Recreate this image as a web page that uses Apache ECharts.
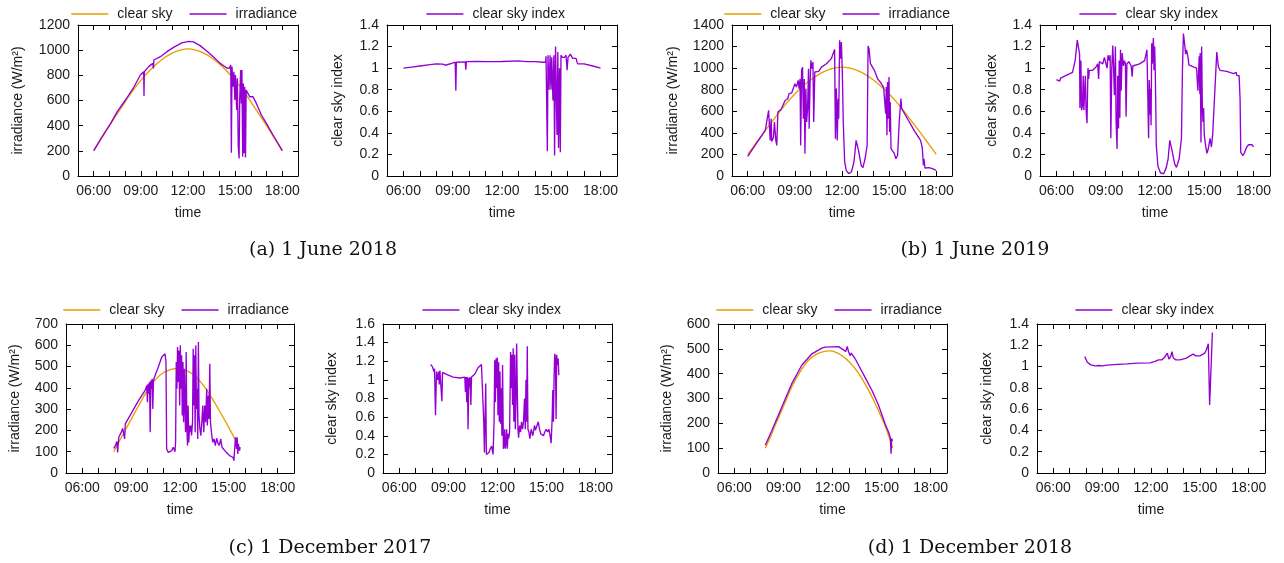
<!DOCTYPE html>
<html>
<head>
<meta charset="utf-8">
<script src="https://cdn.jsdelivr.net/npm/echarts@6/dist/echarts.min.js"></script>
<style>html,body{margin:0;padding:0;background:#fff}#c{width:1284px;height:563px}</style>
</head>
<body>
<div id="c"></div>
<script>
// ---- data: [hour of day, value] ----
const csA = [[6,200],[6.5,300],[7,400],[7.5,495],[8,590],[8.5,680],[9,760],[9.5,830],[10,890],[10.5,940],[11,977],[11.5,1000],[12,1010],[12.5,1000],[13,977],[13.5,940],[14,890],[14.5,830],[15,760],[15.5,680],[16,590],[16.5,495],[17,400],[17.5,300],[18,200]];
const irrA = [[6,201],[6.5,305],[7.08,418],[7.5,512],[8.02,604],[8.55,705],[8.97,803],[9.18,829],[9.2,635],[9.22,829],[9.5,869],[9.76,895],[9.8,855],[9.83,922],[10.24,948],[10.66,988],[11.08,1022],[11.6,1058],[12.03,1070],[12.35,1066],[12.77,1036],[13.19,994],[13.61,947],[14.03,897],[14.46,858],[14.62,855],[14.72,882],[14.76,185],[14.8,869],[14.86,710],[14.92,829],[14.98,604],[15.02,803],[15.1,524],[15.14,776],[15.2,233],[15.25,140],[15.29,604],[15.35,842],[15.39,577],[15.43,842],[15.48,154],[15.52,736],[15.57,180],[15.61,710],[15.66,148],[15.7,683],[15.8,697],[15.93,630],[16.14,630],[16.35,577],[16.67,485],[16.99,418],[17.41,326],[18,201]];
const ksA = [[6,1.0],[6.5,1.01],[7,1.02],[7.5,1.03],[8,1.04],[8.4,1.037],[8.47,1.05],[8.55,1.027],[8.6,1.04],[8.94,1.045],[9.15,1.055],[9.19,0.79],[9.22,1.055],[9.76,1.058],[9.8,0.985],[9.83,1.06],[10.5,1.062],[11,1.06],[12,1.062],[13,1.068],[13.5,1.06],[14,1.06],[14.5,1.055],[14.65,1.055],[14.68,1.11],[14.72,1.12],[14.76,0.23],[14.8,1.12],[14.86,0.8],[14.93,1.12],[14.98,0.8],[15.03,1.1],[15.1,0.7],[15.16,1.12],[15.2,0.19],[15.26,1.2],[15.32,1.21],[15.35,0.38],[15.4,1.15],[15.44,0.26],[15.5,1.0],[15.55,0.22],[15.59,1.12],[15.67,1.1],[15.8,1.1],[15.9,1.12],[15.96,0.98],[16.02,1.1],[16.16,1.13],[16.3,1.09],[16.51,1.09],[16.6,1.04],[17,1.04],[17.53,1.02],[18,1.0]];

const csB = [[6,200],[6.5,300],[7,400],[7.5,495],[8,590],[8.5,680],[9,760],[9.5,830],[10,890],[10.5,940],[11,977],[11.5,1000],[12,1010],[12.5,1000],[13,977],[13.5,940],[14,890],[14.5,830],[15,760],[15.5,680],[16,590],[16.5,495],[17,400],[17.5,300],[18,200]];
const irrB = [[6,182],[6.5,290],[7.12,423],[7.33,609],[7.38,620],[7.43,330],[7.49,530],[7.53,320],[7.64,360],[7.7,500],[7.79,330],[7.85,284],[7.92,593],[8.0,578],[8.13,618],[8.38,700],[8.55,716],[8.63,763],[8.8,770],[8.93,825],[9.0,856],[9.1,825],[9.21,887],[9.27,810],[9.33,902],[9.37,284],[9.43,980],[9.49,1010],[9.54,531],[9.6,900],[9.64,207],[9.7,810],[9.75,500],[9.81,624],[9.87,995],[9.91,439],[9.97,871],[10.02,1072],[10.08,995],[10.15,1057],[10.2,500],[10.27,964],[10.37,950],[10.52,970],[10.69,1010],[11.01,1041],[11.32,1088],[11.53,1174],[11.58,346],[11.64,810],[11.7,330],[11.75,717],[11.79,531],[11.85,1258],[11.92,1088],[11.96,1242],[12.02,964],[12.08,500],[12.17,130],[12.27,52],[12.42,22],[12.6,37],[12.76,130],[12.9,330],[13.05,238],[13.22,99],[13.33,77],[13.47,160],[13.6,284],[13.66,1205],[13.72,1180],[13.81,1041],[13.85,1057],[14.06,980],[14.27,900],[14.48,862],[14.65,819],[14.74,810],[14.78,578],[14.82,825],[14.86,377],[14.9,871],[14.95,531],[14.99,918],[15.03,408],[15.07,686],[15.12,253],[15.22,238],[15.33,207],[15.43,160],[15.54,192],[15.64,500],[15.75,717],[15.8,624],[16.17,531],[16.59,423],[17.0,330],[17.11,260],[17.18,99],[17.22,160],[17.28,74],[17.54,77],[17.75,68],[18.0,52]];
const ksB = [[6,0.894],[6.2,0.88],[6.27,0.91],[6.98,0.96],[7.14,1.07],[7.27,1.26],[7.35,1.275],[7.41,1.13],[7.43,0.63],[7.49,1.07],[7.53,0.61],[7.59,0.66],[7.63,0.93],[7.67,0.61],[7.71,0.76],[7.76,0.93],[7.8,0.63],[7.86,0.49],[7.92,1.0],[7.96,0.9],[8.0,0.98],[8.2,0.98],[8.41,1.01],[8.51,1.04],[8.57,0.9],[8.61,1.06],[8.82,1.04],[8.92,1.1],[9.02,1.09],[9.08,1.0],[9.14,1.12],[9.22,1.07],[9.27,1.12],[9.31,0.35],[9.37,1.0],[9.43,1.21],[9.47,1.04],[9.53,0.75],[9.59,1.2],[9.63,0.52],[9.69,0.25],[9.73,0.93],[9.78,0.44],[9.82,1.07],[9.86,0.54],[9.9,1.17],[9.94,0.79],[10.0,1.14],[10.08,1.02],[10.14,1.07],[10.2,1.04],[10.24,0.55],[10.29,1.04],[10.41,1.06],[10.55,1.02],[10.61,0.92],[10.65,1.02],[11.06,1.04],[11.37,1.07],[11.51,1.17],[11.57,1.18],[11.61,0.35],[11.65,0.89],[11.69,0.57],[11.73,0.81],[11.76,0.47],[11.8,1.23],[11.84,1.04],[11.9,1.28],[11.94,0.98],[11.98,1.2],[12.02,0.94],[12.08,0.28],[12.18,0.09],[12.33,0.03],[12.53,0.02],[12.69,0.08],[12.8,0.16],[12.9,0.33],[13.06,0.22],[13.2,0.11],[13.31,0.08],[13.47,0.16],[13.61,0.35],[13.67,0.98],[13.73,1.32],[13.82,1.2],[13.86,1.13],[13.92,1.17],[14.02,1.09],[14.06,1.03],[14.37,1.01],[14.53,1.0],[14.59,1.0],[14.61,0.79],[14.65,0.95],[14.69,1.11],[14.73,0.76],[14.75,1.14],[14.8,0.31],[14.84,1.2],[14.88,0.66],[14.92,0.5],[14.96,0.63],[15.0,0.38],[15.08,0.28],[15.16,0.21],[15.24,0.25],[15.35,0.35],[15.43,0.27],[15.51,0.38],[15.76,1.15],[15.86,1.01],[15.96,0.98],[16.37,0.97],[16.78,0.95],[16.94,0.96],[16.98,0.93],[17.12,0.93],[17.18,0.71],[17.22,0.22],[17.29,0.21],[17.35,0.19],[17.43,0.21],[17.53,0.2],[17.59,0.27],[17.69,0.29],[17.8,0.28],[17.9,0.29],[18.0,0.27]];

const csC = [[7.93,100],[8.0,110],[8.5,182],[9.0,252],[9.5,322],[10.0,388],[10.5,440],[11.0,472],[11.5,488],[11.8,491],[12.0,489],[12.5,477],[13.0,450],[13.5,405],[14.0,347],[14.5,282],[15.0,213],[15.5,140],[15.7,105]];
const irrC = [[7.93,116],[8.03,129],[8.13,148],[8.17,97],[8.24,168],[8.34,168],[8.4,192],[8.48,210],[8.56,215],[8.6,160],[8.64,231],[9.05,286],[9.46,341],[9.86,388],[9.96,411],[10.0,333],[10.04,419],[10.09,372],[10.13,427],[10.17,192],[10.21,435],[10.25,396],[10.29,443],[10.33,301],[10.37,435],[10.47,458],[10.67,498],[10.88,545],[11.08,560],[11.14,521],[11.18,113],[11.28,97],[11.39,93],[11.49,105],[11.59,121],[11.69,100],[11.73,144],[11.77,521],[11.81,396],[11.85,592],[11.89,427],[11.93,576],[11.98,317],[12.02,600],[12.06,396],[12.1,553],[12.14,270],[12.18,521],[12.22,239],[12.26,490],[12.3,317],[12.34,192],[12.38,568],[12.42,223],[12.46,129],[12.5,317],[12.54,144],[12.59,223],[12.63,192],[12.67,223],[12.71,176],[12.77,239],[12.81,584],[12.85,317],[12.89,553],[12.93,192],[12.97,600],[13.01,301],[13.05,396],[13.09,160],[13.13,615],[13.17,270],[13.22,207],[13.28,176],[13.34,239],[13.4,317],[13.46,192],[13.52,317],[13.58,239],[13.64,396],[13.68,223],[13.74,364],[13.78,254],[13.83,513],[13.87,239],[13.93,192],[14.01,144],[14.09,160],[14.17,129],[14.25,163],[14.33,141],[14.41,129],[14.5,160],[14.58,121],[14.7,113],[14.84,97],[14.94,100],[15.04,82],[15.15,85],[15.25,74],[15.31,58],[15.37,129],[15.41,168],[15.47,113],[15.51,168],[15.55,89],[15.59,137],[15.63,105],[15.7,121]];
const ksC = [[7.91,1.165],[8.03,1.14],[8.11,1.09],[8.15,1.12],[8.21,0.62],[8.27,1.09],[8.34,1.0],[8.4,1.09],[8.44,0.95],[8.48,1.1],[8.54,1.09],[8.6,0.77],[8.64,1.08],[8.88,1.06],[9.29,1.03],[9.7,1.02],[10.0,1.03],[10.04,0.87],[10.08,1.03],[10.12,0.76],[10.16,1.03],[10.2,0.47],[10.24,1.02],[10.28,0.92],[10.32,1.03],[10.37,0.73],[10.41,1.03],[10.61,1.06],[10.81,1.13],[11.02,1.165],[11.12,1.16],[11.16,0.55],[11.2,0.22],[11.28,0.96],[11.32,0.2],[11.4,0.19],[11.48,0.22],[11.56,0.26],[11.64,0.29],[11.73,0.2],[11.79,0.55],[11.83,1.21],[11.87,0.76],[11.91,1.23],[11.95,0.91],[11.99,1.24],[12.03,0.62],[12.07,1.19],[12.11,0.55],[12.15,1.09],[12.19,0.53],[12.23,0.91],[12.27,0.4],[12.31,1.16],[12.36,0.26],[12.4,0.29],[12.44,0.47],[12.48,0.26],[12.52,0.33],[12.56,0.47],[12.6,0.26],[12.64,0.42],[12.68,0.37],[12.74,0.44],[12.8,1.3],[12.84,0.91],[12.88,1.27],[12.92,0.73],[12.96,1.34],[13.0,0.55],[13.05,1.27],[13.09,0.47],[13.13,0.76],[13.17,1.39],[13.21,0.91],[13.25,0.47],[13.29,0.38],[13.35,0.51],[13.41,0.44],[13.47,0.55],[13.53,0.47],[13.59,0.55],[13.65,0.8],[13.7,0.47],[13.74,1.0],[13.78,0.55],[13.82,1.36],[13.86,0.47],[13.92,0.44],[13.98,0.37],[14.06,0.47],[14.16,0.4],[14.26,0.51],[14.32,0.46],[14.41,0.47],[14.49,0.55],[14.57,0.47],[14.65,0.42],[14.73,0.44],[14.81,0.4],[14.89,0.44],[14.97,0.47],[15.06,0.44],[15.14,0.47],[15.22,0.4],[15.28,0.32],[15.34,0.58],[15.38,0.89],[15.42,0.55],[15.46,1.05],[15.5,1.28],[15.54,1.23],[15.58,0.58],[15.62,1.27],[15.66,1.16],[15.71,1.23],[15.75,1.05]];

const csD = [[7.89,100],[8.25,152],[8.5,192],[9.0,268],[9.5,345],[10.0,405],[10.5,452],[11.0,478],[11.5,490],[11.8,492],[12.1,489],[12.5,476],[13.0,449],[13.5,410],[14.0,358],[14.5,295],[15.0,224],[15.3,175],[15.5,137],[15.68,100]];
const irrD = [[7.89,112],[8.3,172],[8.91,267],[9.52,361],[10.13,435],[10.74,480],[11.35,503],[11.55,507],[11.96,508],[12.37,509],[12.47,512],[12.6,499],[12.72,492],[12.81,489],[12.9,510],[12.98,489],[13.08,472],[13.15,483],[13.22,489],[13.3,469],[13.42,456],[13.59,435],[13.99,385],[14.4,334],[14.81,274],[15.21,199],[15.46,159],[15.54,139],[15.58,78],[15.62,139],[15.66,129]];
const ksD = [[7.93,1.095],[8.09,1.04],[8.3,1.016],[8.6,1.007],[8.8,1.01],[9.0,1.007],[9.1,1.016],[9.31,1.013],[9.92,1.02],[10.53,1.025],[11.14,1.032],[11.95,1.035],[12.25,1.048],[12.46,1.063],[12.66,1.063],[12.76,1.048],[12.8,1.08],[12.92,1.063],[13.0,1.126],[13.1,1.07],[13.21,1.095],[13.29,1.14],[13.37,1.08],[13.53,1.063],[13.78,1.063],[14.18,1.08],[14.39,1.1],[14.59,1.117],[14.75,1.1],[15.0,1.1],[15.3,1.126],[15.4,1.158],[15.52,1.214],[15.56,1.2],[15.6,0.64],[15.77,1.32]];

const xTickLabels = {6:'06:00',9:'09:00',12:'12:00',15:'15:00',18:'18:00'};
const captions = ['(a) 1 June 2018','(b) 1 June 2019','(c) 1 December 2017','(d) 1 December 2018'];

// ---- layout & style ----
const ORANGE = '#E69F00', PURPLE = '#9400D3';
const FONT = '"Liberation Sans", Arial, Helvetica, sans-serif';
const TXT = '#1a1a1a';
const IRR_NAME = 'irradiance (W/m²)', KS_NAME = 'clear sky index';

const panels = [
  {g:{left:78,top:25,width:220,height:151}, yMax:1200,yInt:200, yName:IRR_NAME, gap:53, lr:982, lt:2,
   s:[['clear sky',csA,ORANGE],['irradiance',irrA,PURPLE]]},
  {g:{left:387,top:25,width:230,height:151}, yMax:1.4,yInt:0.2, yName:KS_NAME, gap:42, lr:714, lt:2,
   s:[['clear sky index',ksA,PURPLE]]},
  {g:{left:732,top:25,width:220,height:151}, yMax:1400,yInt:200, yName:IRR_NAME, gap:52, lr:329, lt:2,
   s:[['clear sky',csB,ORANGE],['irradiance',irrB,PURPLE]]},
  {g:{left:1040,top:25,width:230,height:151}, yMax:1.4,yInt:0.2, yName:KS_NAME, gap:41, lr:61, lt:2,
   s:[['clear sky index',ksB,PURPLE]]},
  {g:{left:66,top:324,width:228,height:149}, yMax:700,yInt:100, yName:IRR_NAME, gap:44, lr:990, lt:298,
   s:[['clear sky',csC,ORANGE],['irradiance',irrC,PURPLE]]},
  {g:{left:383,top:324,width:229,height:149}, yMax:1.6,yInt:0.2, yName:KS_NAME, gap:44, lr:718, lt:298,
   s:[['clear sky index',ksC,PURPLE]]},
  {g:{left:718,top:324,width:229,height:149}, yMax:600,yInt:100, yName:IRR_NAME, gap:44, lr:337, lt:298,
   s:[['clear sky',csD,ORANGE],['irradiance',irrD,PURPLE]]},
  {g:{left:1037,top:324,width:228,height:149}, yMax:1.4,yInt:0.2, yName:KS_NAME, gap:43, lr:65, lt:298,
   s:[['clear sky index',ksD,PURPLE]]}
];

const grid=[], xAxis=[], yAxis=[], series=[], legend=[];
const axLine = {show:true,onZero:false,lineStyle:{color:'#000',width:1}};
const axTick = {show:true,inside:true,length:5,lineStyle:{color:'#000',width:1}};
panels.forEach((p,i)=>{
  grid.push(Object.assign({containLabel:false}, p.g));
  xAxis.push({gridIndex:i,type:'value',min:5,max:19,interval:1,position:'bottom',
    axisLine:axLine,axisTick:axTick,splitLine:{show:false},
    axisLabel:{margin:8,fontSize:14,fontFamily:FONT,color:TXT,showMinLabel:true,showMaxLabel:true,
      formatter:v=>xTickLabels[v]||''},
    name:'time',nameLocation:'middle',nameGap:30,nameTextStyle:{fontSize:14,fontFamily:FONT,color:TXT}});
  xAxis.push({gridIndex:i,type:'value',min:5,max:19,interval:1,position:'top',
    axisLine:axLine,axisTick:axTick,splitLine:{show:false},axisLabel:{show:false}});
  yAxis.push({gridIndex:i,type:'value',min:0,max:p.yMax,interval:p.yInt,position:'left',
    axisLine:axLine,axisTick:axTick,splitLine:{show:false},
    axisLabel:{margin:8,fontSize:14,fontFamily:FONT,color:TXT,formatter:v=>String(+v.toFixed(2))},
    name:p.yName,nameLocation:'middle',nameGap:p.gap,nameRotate:90,
    nameTextStyle:{fontSize:14,fontFamily:FONT,color:TXT}});
  yAxis.push({gridIndex:i,type:'value',min:0,max:p.yMax,interval:p.yInt,position:'right',
    axisLine:axLine,axisTick:axTick,splitLine:{show:false},axisLabel:{show:false}});
  p.s.forEach(([name,data,color])=>{
    series.push({type:'line',name,data,xAxisIndex:2*i,yAxisIndex:2*i,symbol:'none',showSymbol:false,
      smooth:color===ORANGE?0.3:false,color,lineStyle:{color,width:1.35},animation:false,clip:true});
  });
  legend.push({data:p.s.map(s=>({name:s[0],icon:'rect'})),right:p.lr,top:p.lt,itemWidth:37,itemHeight:1.6,itemGap:17,
    selectedMode:false,textStyle:{fontSize:14,fontFamily:FONT,color:TXT,padding:[0,0,0,4],lineHeight:14}});
});

const capPos = [[323,250],[975,250],[330,548],[970,548]];
const graphic = captions.map((t,i)=>({type:'text',x:capPos[i][0],y:capPos[i][1],
  style:{text:t,textAlign:'center',textVerticalAlign:'middle',align:'center',verticalAlign:'middle',
    font:'19px "DejaVu Serif", "Liberation Serif", serif',fill:'#111'}}));

const chart = echarts.init(document.getElementById('c'),null,{renderer:'canvas'});
chart.setOption({backgroundColor:'#fff',animation:false,grid,xAxis,yAxis,series,legend,graphic});
</script>
</body>
</html>
